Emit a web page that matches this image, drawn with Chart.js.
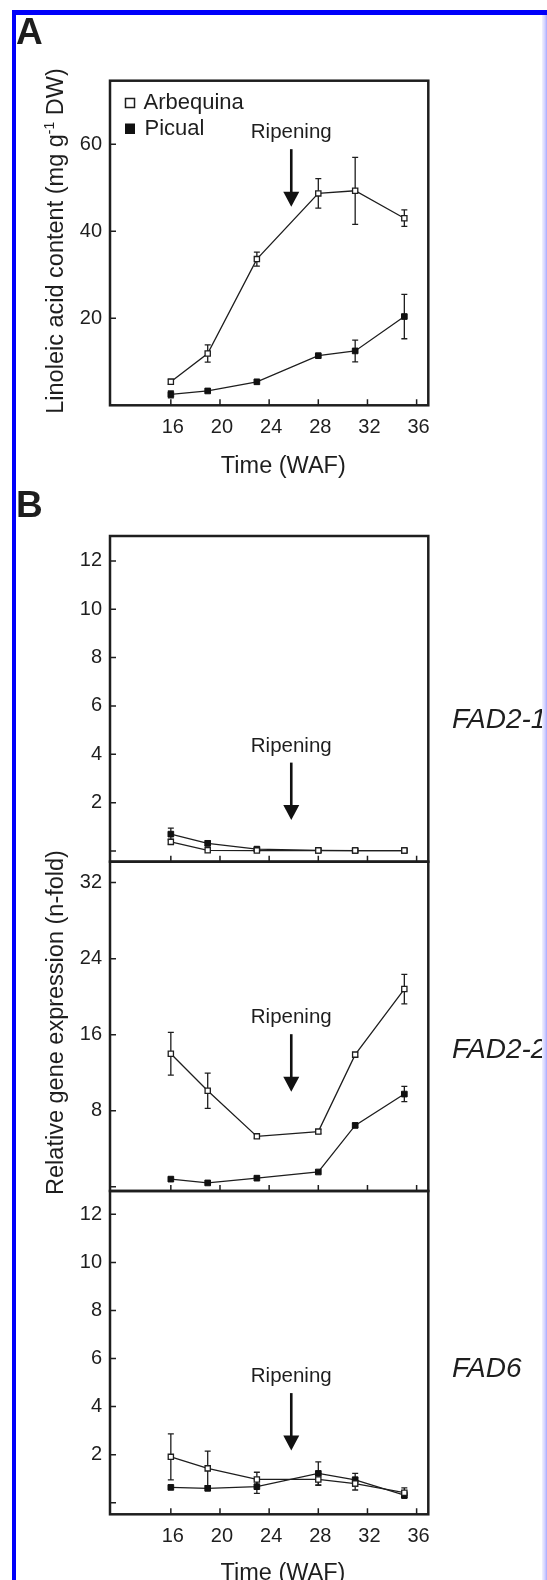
<!DOCTYPE html>
<html>
<head>
<meta charset="utf-8">
<script src="https://cdn.jsdelivr.net/npm/chart.js@4.4.1/dist/chart.umd.min.js"></script>
<style>
  html, body { margin: 0; padding: 0; background: #fff; }
  #wrap { position: relative; width: 547px; height: 1580px; overflow: hidden; background: #fff; }
  #wrap canvas { position: absolute; left: 0; top: 0; }
  #edge { position: absolute; left: 542px; top: 15px; width: 5px; height: 1565px;
          background: linear-gradient(to right, #f2f2ff, #d0d0ff 60%, #a8a8ff); }
</style>
</head>
<body>
<div id="wrap">
  <canvas id="chartA" width="547" height="1580"></canvas>
  <canvas id="chartFad21" width="547" height="1580"></canvas>
  <canvas id="chartFad22" width="547" height="1580"></canvas>
  <canvas id="chartFad6" width="547" height="1580"></canvas>
  <div id="edge"></div>
</div>
<script>
// sampling times (weeks after flowering)
const weeks = [16, 19, 23, 28, 31, 35];
const xTicks = [16, 20, 24, 28, 32, 36];

// A - linoleic acid content (mg g-1 DW)
const linArbequina    = [5.4, 11.9, 33.6, 48.7, 49.3, 43.0];
const linArbequinaErr = [0.6, 2.0, 1.6, 3.4, 7.7, 1.9];
const linPicual       = [2.5, 3.3, 5.4, 11.4, 12.5, 20.4];
const linPicualErr    = [0.8, 0, 0, 0, 2.5, 5.1];
const linTicks = [0, 20, 40, 60];

// B - FAD2-1 relative expression
const fad21Arbequina    = [0.38, 0.03, 0.02, 0.02, 0.02, 0.02];
const fad21ArbequinaErr = [0.1, 0, 0, 0, 0, 0];
const fad21Picual       = [0.7, 0.32, 0.08, 0.03, 0.02, 0.02];
const fad21PicualErr    = [0.25, 0.1, 0.05, 0, 0, 0];

// B - FAD2-2
const fad22Arbequina    = [14.0, 10.1, 5.3, 5.8, 13.9, 20.8];
const fad22ArbequinaErr = [2.25, 1.85, 0.2, 0.2, 0.2, 1.55];
const fad22Picual       = [0.8, 0.4, 0.9, 1.55, 6.45, 9.75];
const fad22PicualErr    = [0, 0, 0, 0, 0.2, 0.8];

// B - FAD6
const fad6Arbequina    = [1.91, 1.43, 0.97, 0.97, 0.8, 0.42];
const fad6ArbequinaErr = [0.96, 0.72, 0.3, 0.25, 0.27, 0.2];
const fad6Picual       = [0.64, 0.6, 0.67, 1.22, 0.95, 0.32];
const fad6PicualErr    = [0, 0, 0.28, 0.48, 0.27, 0.14];

const smallTicks = [0, 2, 4, 6, 8, 10, 12];
const fad22Ticks = [0, 8, 16, 24, 32];

const FONT = '"Liberation Sans", Arial, Helvetica, sans-serif';
const INK = '#1e1e1e';
const W = 547, H = 1580;
const BOX_LEFT = 110, BOX_RIGHT = 428.3;
Chart.defaults.font.family = FONT;

function font(size, style) {
  return (style || '') + ' ' + size + 'px ' + FONT;
}

// rotated axis title, parts = [[text, size, rise]]
function vTitle(ctx, parts, baseX, cy) {
  ctx.save();
  ctx.translate(baseX, cy);
  ctx.rotate(-Math.PI / 2);
  ctx.fillStyle = INK;
  ctx.textAlign = 'left';
  ctx.textBaseline = 'alphabetic';
  let total = 0;
  const widths = parts.map(p => { ctx.font = font(p[1]); const w = ctx.measureText(p[0]).width; total += w; return w; });
  let x0 = -total / 2;
  parts.forEach((p, i) => { ctx.font = font(p[1]); ctx.fillText(p[0], x0, -(p[2] || 0)); x0 += widths[i]; });
  ctx.restore();
}

function text(ctx, s, x, y, f, align) {
  ctx.save();
  ctx.font = f;
  ctx.fillStyle = INK;
  ctx.textAlign = align || 'left';
  ctx.textBaseline = 'alphabetic';
  ctx.fillText(s, x, y);
  ctx.restore();
}

function decoPlugin(cfg) {
  return {
    id: 'deco',
    beforeDatasetsDraw(chart) {
      const ctx = chart.ctx, xs = chart.scales.x, ys = chart.scales.y;
      ctx.save();
      ctx.strokeStyle = INK;
      ctx.lineWidth = 1.3;
      chart.data.datasets.forEach(ds => {
        ds.errors.forEach((e, i) => {
          if (!e) return;
          const px = xs.getPixelForValue(weeks[i]);
          const y1 = ys.getPixelForValue(ds.data[i].y + e);
          const y2 = ys.getPixelForValue(ds.data[i].y - e);
          ctx.beginPath();
          ctx.moveTo(px, y1); ctx.lineTo(px, y2);
          ctx.moveTo(px - 3, y1); ctx.lineTo(px + 3, y1);
          ctx.moveTo(px - 3, y2); ctx.lineTo(px + 3, y2);
          ctx.stroke();
        });
      });
      ctx.restore();
    },
    afterDraw(chart) {
      const ctx = chart.ctx, a = chart.chartArea, xs = chart.scales.x, ys = chart.scales.y;
      ctx.save();
      // plot frame
      ctx.strokeStyle = INK;
      ctx.lineWidth = 2.5;
      ctx.strokeRect(a.left, a.top, a.right - a.left, a.bottom - a.top);
      // inward ticks
      ctx.lineWidth = 1.5;
      ctx.beginPath();
      xTicks.forEach(v => {
        const px = xs.getPixelForValue(v);
        ctx.moveTo(px, a.bottom); ctx.lineTo(px, a.bottom - 6);
      });
      cfg.yTicks.forEach(v => {
        const py = ys.getPixelForValue(v);
        ctx.moveTo(a.left, py); ctx.lineTo(a.left + 6, py);
      });
      ctx.stroke();
      // ripening arrow
      const ax = xs.getPixelForValue(25.8);
      const tip = ys.getPixelForValue(cfg.arrowTip);
      text(ctx, 'Ripening', ax, tip - 68.5, font(20.5), 'center');
      ctx.fillStyle = '#111';
      ctx.fillRect(ax - 1.3, tip - 57.5, 2.6, 44);
      ctx.beginPath();
      ctx.moveTo(ax - 8, tip - 15);
      ctx.lineTo(ax + 8, tip - 15);
      ctx.lineTo(ax, tip);
      ctx.closePath();
      ctx.fill();
      ctx.restore();
      if (cfg.extra) cfg.extra(ctx, chart);
    }
  };
}

function makePanel(id, cfg) {
  const arbPts = weeks.map((w, i) => ({ x: w, y: cfg.arb[i] }));
  const picPts = weeks.map((w, i) => ({ x: w, y: cfg.pic[i] }));
  return new Chart(document.getElementById(id), {
    type: 'line',
    data: {
      datasets: [
        { label: 'Arbequina', data: arbPts, errors: cfg.arbErr,
          borderColor: INK, borderWidth: 1.3, tension: 0,
          pointStyle: 'rect', pointRadius: 3.7, pointBorderWidth: 1.3,
          pointBackgroundColor: '#fff', pointBorderColor: INK },
        { label: 'Picual', data: picPts, errors: cfg.picErr,
          borderColor: INK, borderWidth: 1.3, tension: 0,
          pointStyle: 'rect', pointRadius: 4, pointBorderWidth: 1,
          pointBackgroundColor: '#111', pointBorderColor: '#111' }
      ]
    },
    options: {
      responsive: false,
      animation: false,
      devicePixelRatio: 1,
      layout: { padding: { left: 0, right: W - BOX_RIGHT, top: cfg.top, bottom: H - cfg.bottom - cfg.xAxisH } },
      plugins: { legend: { display: false }, tooltip: { enabled: false } },
      scales: {
        x: {
          type: 'linear', min: 11.05, max: 36.95,
          grid: { display: false, drawTicks: false }, border: { display: false },
          afterBuildTicks: s => { s.ticks = xTicks.map(v => ({ value: v })); },
          afterFit: s => { s.height = cfg.xAxisH; },
          ticks: { display: cfg.xAxisH > 0, padding: 10, labelOffset: 2, autoSkip: false, maxRotation: 0,
                   color: INK, font: { size: 20, family: FONT } }
        },
        y: {
          type: 'linear', min: cfg.yMin, max: cfg.yMax,
          grid: { display: false, drawTicks: false }, border: { display: false },
          afterBuildTicks: s => { s.ticks = cfg.yTicks.map(v => ({ value: v })); },
          afterFit: s => { s.width = BOX_LEFT; },
          ticks: { padding: 8, autoSkip: false, color: INK, font: { size: 20, family: FONT },
                   callback: v => (v === 0 ? '' : String(v)) }
        }
      }
    },
    plugins: [decoPlugin(cfg)]
  });
}

makePanel('chartA', {
  arb: linArbequina, arbErr: linArbequinaErr, pic: linPicual, picErr: linPicualErr,
  top: 80.7, bottom: 405.3, xAxisH: 60, yMin: 0, yMax: 74.6, yTicks: linTicks, arrowTip: 45.65,
  extra(ctx) {
    // outer blue frame
    ctx.save();
    ctx.fillStyle = '#0000fa';
    ctx.fillRect(12, 10, 4, H);
    ctx.fillRect(12, 10, W, 5);
    ctx.restore();
    text(ctx, 'A', 16, 44, font(37, 'bold'));
    text(ctx, 'B', 16, 517, font(37, 'bold'));
    // legend
    ctx.save();
    ctx.strokeStyle = INK; ctx.lineWidth = 1.5;
    ctx.strokeRect(125.5, 98.5, 9, 9);
    ctx.fillStyle = '#111';
    ctx.fillRect(125, 123.5, 10, 10.5);
    ctx.restore();
    text(ctx, 'Arbequina', 143.5, 109.3, font(22));
    text(ctx, 'Picual', 144.5, 135, font(22));
    vTitle(ctx, [['Linoleic acid content (mg g', 23.5], ['-1', 14, 9], [' DW)', 23.5]], 63, 241);
    text(ctx, 'Time (WAF)', 283.3, 473.3, font(23.5), 'center');
  }
});

makePanel('chartFad21', {
  arb: fad21Arbequina, arbErr: fad21ArbequinaErr, pic: fad21Picual, picErr: fad21PicualErr,
  top: 536, bottom: 861.7, xAxisH: 0, yMin: -0.44, yMax: 13.03, yTicks: smallTicks, arrowTip: 1.28,
  extra(ctx) {
    text(ctx, 'FAD2-1', 452, 728, font(28, 'italic'));
  }
});

makePanel('chartFad22', {
  arb: fad22Arbequina, arbErr: fad22ArbequinaErr, pic: fad22Picual, picErr: fad22PicualErr,
  top: 861.7, bottom: 1191, xAxisH: 0, yMin: -0.45, yMax: 34.2, yTicks: fad22Ticks, arrowTip: 10.0,
  extra(ctx) {
    text(ctx, 'FAD2-2', 452, 1058, font(28, 'italic'));
    vTitle(ctx, [['Relative gene expression (n-fold)', 23.5]], 63, 1022.5);
  }
});

makePanel('chartFad6', {
  arb: fad6Arbequina, arbErr: fad6ArbequinaErr, pic: fad6Picual, picErr: fad6PicualErr,
  top: 1191, bottom: 1514.3, xAxisH: 50, yMin: -0.48, yMax: 12.97, yTicks: smallTicks, arrowTip: 2.17,
  extra(ctx) {
    text(ctx, 'FAD6', 452, 1377, font(28, 'italic'));
    text(ctx, 'Time (WAF)', 283, 1580, font(23.5), 'center');
  }
});
</script>
</body>
</html>
